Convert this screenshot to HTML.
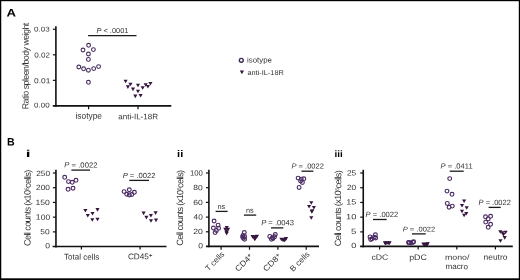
<!DOCTYPE html>
<html><head><meta charset="utf-8"><style>
html,body{margin:0;padding:0;background:#fff;}
body{width:520px;height:280px;overflow:hidden;}
svg{display:block;font-family:"Liberation Sans",sans-serif;text-rendering:geometricPrecision;will-change:transform;}
</style></head><body>
<svg width="520" height="280" viewBox="0 0 520 280">
<rect x="0" y="0" width="520" height="280" fill="#fff"/>
<g id="gfx">
<circle cx="88.6" cy="45.3" r="1.9" fill="none" stroke="#46305f" stroke-width="1.1"/>
<circle cx="83.0" cy="50.0" r="1.9" fill="none" stroke="#46305f" stroke-width="1.1"/>
<circle cx="93.4" cy="49.6" r="1.9" fill="none" stroke="#46305f" stroke-width="1.1"/>
<circle cx="88.4" cy="54.0" r="1.9" fill="none" stroke="#46305f" stroke-width="1.1"/>
<circle cx="88.4" cy="59.4" r="1.9" fill="none" stroke="#46305f" stroke-width="1.1"/>
<circle cx="78.8" cy="67.0" r="1.9" fill="none" stroke="#46305f" stroke-width="1.1"/>
<circle cx="83.6" cy="68.8" r="1.9" fill="none" stroke="#46305f" stroke-width="1.1"/>
<circle cx="88.4" cy="70.2" r="1.9" fill="none" stroke="#46305f" stroke-width="1.1"/>
<circle cx="93.7" cy="68.6" r="1.9" fill="none" stroke="#46305f" stroke-width="1.1"/>
<circle cx="98.6" cy="66.6" r="1.9" fill="none" stroke="#46305f" stroke-width="1.1"/>
<circle cx="88.4" cy="82.3" r="1.9" fill="none" stroke="#46305f" stroke-width="1.1"/>
<path d="M123.52,79.74L127.67,79.74L125.60,83.36Z" fill="#36163f"/>
<path d="M128.43,82.74L132.57,82.74L130.50,86.36Z" fill="#36163f"/>
<path d="M125.83,85.34L129.97,85.34L127.90,88.96Z" fill="#36163f"/>
<path d="M130.93,87.54L135.07,87.54L133.00,91.16Z" fill="#36163f"/>
<path d="M135.93,83.64L140.07,83.64L138.00,87.26Z" fill="#36163f"/>
<path d="M135.93,89.64L140.07,89.64L138.00,93.26Z" fill="#36163f"/>
<path d="M133.23,94.54L137.38,94.54L135.30,98.16Z" fill="#36163f"/>
<path d="M138.53,93.94L142.67,93.94L140.60,97.56Z" fill="#36163f"/>
<path d="M140.62,86.24L144.77,86.24L142.70,89.86Z" fill="#36163f"/>
<path d="M143.62,83.24L147.77,83.24L145.70,86.86Z" fill="#36163f"/>
<path d="M145.83,84.94L149.97,84.94L147.90,88.56Z" fill="#36163f"/>
<path d="M148.33,81.94L152.47,81.94L150.40,85.56Z" fill="#36163f"/>
<circle cx="241.3" cy="60.3" r="1.95" fill="none" stroke="#3c2850" stroke-width="1.4"/>
<path d="M239.75,70.48L244.05,70.48L241.90,74.22Z" fill="#36163f"/>
<circle cx="64.7" cy="177.3" r="1.9" fill="none" stroke="#4b2b64" stroke-width="1.15"/>
<circle cx="68.5" cy="181.6" r="1.9" fill="none" stroke="#4b2b64" stroke-width="1.15"/>
<circle cx="72.2" cy="182.3" r="1.9" fill="none" stroke="#4b2b64" stroke-width="1.15"/>
<circle cx="76.0" cy="180.3" r="1.9" fill="none" stroke="#4b2b64" stroke-width="1.15"/>
<circle cx="68.1" cy="189.3" r="1.9" fill="none" stroke="#4b2b64" stroke-width="1.15"/>
<circle cx="73.0" cy="188.2" r="1.9" fill="none" stroke="#4b2b64" stroke-width="1.15"/>
<path d="M83.33,208.94L87.48,208.94L85.40,212.56Z" fill="#36163f"/>
<path d="M85.72,213.94L89.88,213.94L87.80,217.56Z" fill="#36163f"/>
<path d="M90.42,211.94L94.58,211.94L92.50,215.56Z" fill="#36163f"/>
<path d="M95.42,208.04L99.58,208.04L97.50,211.66Z" fill="#36163f"/>
<path d="M90.22,218.24L94.38,218.24L92.30,221.86Z" fill="#36163f"/>
<path d="M95.42,217.74L99.58,217.74L97.50,221.36Z" fill="#36163f"/>
<circle cx="124.1" cy="191.6" r="1.9" fill="none" stroke="#4b2b64" stroke-width="1.15"/>
<circle cx="129.3" cy="189.7" r="1.9" fill="none" stroke="#4b2b64" stroke-width="1.15"/>
<circle cx="134.4" cy="192.2" r="1.9" fill="none" stroke="#4b2b64" stroke-width="1.15"/>
<circle cx="126.7" cy="194.2" r="1.9" fill="none" stroke="#4b2b64" stroke-width="1.15"/>
<circle cx="129.3" cy="194.9" r="1.9" fill="none" stroke="#4b2b64" stroke-width="1.15"/>
<circle cx="131.8" cy="194.5" r="1.9" fill="none" stroke="#4b2b64" stroke-width="1.15"/>
<path d="M141.53,211.54L145.67,211.54L143.60,215.16Z" fill="#36163f"/>
<path d="M144.33,215.84L148.47,215.84L146.40,219.46Z" fill="#36163f"/>
<path d="M148.83,213.94L152.97,213.94L150.90,217.56Z" fill="#36163f"/>
<path d="M153.53,211.34L157.67,211.34L155.60,214.96Z" fill="#36163f"/>
<path d="M148.93,219.24L153.07,219.24L151.00,222.86Z" fill="#36163f"/>
<path d="M153.93,218.54L158.07,218.54L156.00,222.16Z" fill="#36163f"/>
<circle cx="214.1" cy="221.0" r="1.9" fill="none" stroke="#4b2b64" stroke-width="1.15"/>
<circle cx="218.1" cy="225.1" r="1.9" fill="none" stroke="#4b2b64" stroke-width="1.15"/>
<circle cx="213.4" cy="228.0" r="1.9" fill="none" stroke="#4b2b64" stroke-width="1.15"/>
<circle cx="218.6" cy="228.3" r="1.9" fill="none" stroke="#4b2b64" stroke-width="1.15"/>
<circle cx="216.4" cy="230.4" r="1.9" fill="none" stroke="#4b2b64" stroke-width="1.15"/>
<circle cx="215.1" cy="232.6" r="1.9" fill="none" stroke="#4b2b64" stroke-width="1.15"/>
<path d="M224.62,225.94L228.77,225.94L226.70,229.56Z" fill="#36163f"/>
<path d="M223.23,227.64L227.38,227.64L225.30,231.26Z" fill="#36163f"/>
<path d="M226.03,227.64L230.17,227.64L228.10,231.26Z" fill="#36163f"/>
<path d="M224.62,229.24L228.77,229.24L226.70,232.86Z" fill="#36163f"/>
<path d="M224.43,230.64L228.57,230.64L226.50,234.26Z" fill="#36163f"/>
<path d="M224.62,231.84L228.77,231.84L226.70,235.46Z" fill="#36163f"/>
<circle cx="244.3" cy="232.5" r="1.9" fill="none" stroke="#4b2b64" stroke-width="1.15"/>
<circle cx="243.0" cy="235.5" r="1.9" fill="none" stroke="#4b2b64" stroke-width="1.15"/>
<circle cx="244.6" cy="236.5" r="1.9" fill="none" stroke="#4b2b64" stroke-width="1.15"/>
<circle cx="243.4" cy="238.2" r="1.9" fill="none" stroke="#4b2b64" stroke-width="1.15"/>
<circle cx="244.6" cy="239.3" r="1.9" fill="none" stroke="#4b2b64" stroke-width="1.15"/>
<circle cx="242.6" cy="237.0" r="1.9" fill="none" stroke="#4b2b64" stroke-width="1.15"/>
<path d="M250.53,235.04L254.67,235.04L252.60,238.66Z" fill="#36163f"/>
<path d="M252.23,235.74L256.38,235.74L254.30,239.36Z" fill="#36163f"/>
<path d="M254.12,235.04L258.27,235.04L256.20,238.66Z" fill="#36163f"/>
<path d="M252.93,236.74L257.07,236.74L255.00,240.36Z" fill="#36163f"/>
<path d="M252.73,237.64L256.88,237.64L254.80,241.26Z" fill="#36163f"/>
<path d="M254.93,234.74L259.07,234.74L257.00,238.36Z" fill="#36163f"/>
<circle cx="269.8" cy="236.4" r="1.9" fill="none" stroke="#4b2b64" stroke-width="1.15"/>
<circle cx="272.4" cy="237.7" r="1.9" fill="none" stroke="#4b2b64" stroke-width="1.15"/>
<circle cx="275.3" cy="234.5" r="1.9" fill="none" stroke="#4b2b64" stroke-width="1.15"/>
<circle cx="274.6" cy="236.7" r="1.9" fill="none" stroke="#4b2b64" stroke-width="1.15"/>
<circle cx="271.4" cy="239.3" r="1.9" fill="none" stroke="#4b2b64" stroke-width="1.15"/>
<circle cx="273.0" cy="238.6" r="1.9" fill="none" stroke="#4b2b64" stroke-width="1.15"/>
<path d="M279.32,237.64L283.47,237.64L281.40,241.26Z" fill="#36163f"/>
<path d="M281.43,238.44L285.57,238.44L283.50,242.06Z" fill="#36163f"/>
<path d="M283.53,237.44L287.68,237.44L285.60,241.06Z" fill="#36163f"/>
<path d="M280.73,238.24L284.88,238.24L282.80,241.86Z" fill="#36163f"/>
<path d="M282.53,238.64L286.68,238.64L284.60,242.26Z" fill="#36163f"/>
<path d="M283.93,237.04L288.07,237.04L286.00,240.66Z" fill="#36163f"/>
<circle cx="298.1" cy="178.1" r="1.9" fill="none" stroke="#4b2b64" stroke-width="1.15"/>
<circle cx="301.3" cy="179.1" r="1.9" fill="none" stroke="#4b2b64" stroke-width="1.15"/>
<circle cx="303.8" cy="178.8" r="1.9" fill="none" stroke="#4b2b64" stroke-width="1.15"/>
<circle cx="302.4" cy="182.4" r="1.9" fill="none" stroke="#4b2b64" stroke-width="1.15"/>
<circle cx="299.1" cy="187.4" r="1.9" fill="none" stroke="#4b2b64" stroke-width="1.15"/>
<circle cx="300.6" cy="180.9" r="1.9" fill="none" stroke="#4b2b64" stroke-width="1.15"/>
<path d="M309.23,201.14L313.38,201.14L311.30,204.76Z" fill="#36163f"/>
<path d="M307.03,204.94L311.18,204.94L309.10,208.56Z" fill="#36163f"/>
<path d="M311.82,205.94L315.97,205.94L313.90,209.56Z" fill="#36163f"/>
<path d="M310.23,209.14L314.38,209.14L312.30,212.76Z" fill="#36163f"/>
<path d="M309.23,216.14L313.38,216.14L311.30,219.76Z" fill="#36163f"/>
<path d="M309.73,210.04L313.88,210.04L311.80,213.66Z" fill="#36163f"/>
<circle cx="370.0" cy="236.9" r="1.9" fill="none" stroke="#4b2b64" stroke-width="1.15"/>
<circle cx="372.1" cy="238.7" r="1.9" fill="none" stroke="#4b2b64" stroke-width="1.15"/>
<circle cx="375.4" cy="234.8" r="1.9" fill="none" stroke="#4b2b64" stroke-width="1.15"/>
<circle cx="374.3" cy="237.3" r="1.9" fill="none" stroke="#4b2b64" stroke-width="1.15"/>
<circle cx="370.7" cy="239.4" r="1.9" fill="none" stroke="#4b2b64" stroke-width="1.15"/>
<circle cx="375.7" cy="238.0" r="1.9" fill="none" stroke="#4b2b64" stroke-width="1.15"/>
<path d="M382.93,241.34L387.07,241.34L385.00,244.96Z" fill="#36163f"/>
<path d="M383.93,241.74L388.07,241.74L386.00,245.36Z" fill="#36163f"/>
<path d="M385.32,241.14L389.47,241.14L387.40,244.76Z" fill="#36163f"/>
<path d="M386.82,241.74L390.97,241.74L388.90,245.36Z" fill="#36163f"/>
<path d="M387.53,241.34L391.68,241.34L389.60,244.96Z" fill="#36163f"/>
<path d="M383.32,241.64L387.47,241.64L385.40,245.26Z" fill="#36163f"/>
<circle cx="408.6" cy="242.4" r="1.9" fill="none" stroke="#4b2b64" stroke-width="1.15"/>
<circle cx="409.2" cy="242.8" r="1.9" fill="none" stroke="#4b2b64" stroke-width="1.15"/>
<circle cx="413.6" cy="241.7" r="1.9" fill="none" stroke="#4b2b64" stroke-width="1.15"/>
<circle cx="413.2" cy="242.2" r="1.9" fill="none" stroke="#4b2b64" stroke-width="1.15"/>
<circle cx="411.0" cy="242.9" r="1.9" fill="none" stroke="#4b2b64" stroke-width="1.15"/>
<circle cx="408.9" cy="242.6" r="1.9" fill="none" stroke="#4b2b64" stroke-width="1.15"/>
<path d="M421.32,242.54L425.47,242.54L423.40,246.16Z" fill="#36163f"/>
<path d="M423.32,242.74L427.47,242.74L425.40,246.36Z" fill="#36163f"/>
<path d="M425.32,242.44L429.47,242.44L427.40,246.06Z" fill="#36163f"/>
<path d="M422.53,242.94L426.68,242.94L424.60,246.56Z" fill="#36163f"/>
<path d="M424.53,242.94L428.68,242.94L426.60,246.56Z" fill="#36163f"/>
<path d="M425.53,242.34L429.68,242.34L427.60,245.96Z" fill="#36163f"/>
<circle cx="449.7" cy="178.6" r="1.9" fill="none" stroke="#4b2b64" stroke-width="1.15"/>
<circle cx="447.0" cy="191.1" r="1.9" fill="none" stroke="#4b2b64" stroke-width="1.15"/>
<circle cx="452.0" cy="194.3" r="1.9" fill="none" stroke="#4b2b64" stroke-width="1.15"/>
<circle cx="447.3" cy="203.4" r="1.9" fill="none" stroke="#4b2b64" stroke-width="1.15"/>
<circle cx="449.1" cy="207.2" r="1.9" fill="none" stroke="#4b2b64" stroke-width="1.15"/>
<circle cx="452.3" cy="206.1" r="1.9" fill="none" stroke="#4b2b64" stroke-width="1.15"/>
<path d="M462.03,199.44L466.18,199.44L464.10,203.06Z" fill="#36163f"/>
<path d="M459.93,203.94L464.07,203.94L462.00,207.56Z" fill="#36163f"/>
<path d="M464.62,206.14L468.77,206.14L466.70,209.76Z" fill="#36163f"/>
<path d="M459.93,209.74L464.07,209.74L462.00,213.36Z" fill="#36163f"/>
<path d="M464.23,211.94L468.38,211.94L466.30,215.56Z" fill="#36163f"/>
<path d="M462.03,213.74L466.18,213.74L464.10,217.36Z" fill="#36163f"/>
<circle cx="485.5" cy="216.8" r="1.9" fill="none" stroke="#4b2b64" stroke-width="1.15"/>
<circle cx="490.6" cy="216.3" r="1.9" fill="none" stroke="#4b2b64" stroke-width="1.15"/>
<circle cx="488.2" cy="218.9" r="1.9" fill="none" stroke="#4b2b64" stroke-width="1.15"/>
<circle cx="485.7" cy="222.1" r="1.9" fill="none" stroke="#4b2b64" stroke-width="1.15"/>
<circle cx="490.6" cy="224.3" r="1.9" fill="none" stroke="#4b2b64" stroke-width="1.15"/>
<circle cx="488.2" cy="227.3" r="1.9" fill="none" stroke="#4b2b64" stroke-width="1.15"/>
<path d="M498.23,230.24L502.38,230.24L500.30,233.86Z" fill="#36163f"/>
<path d="M500.43,231.14L504.57,231.14L502.50,234.76Z" fill="#36163f"/>
<path d="M503.53,230.64L507.68,230.64L505.60,234.26Z" fill="#36163f"/>
<path d="M502.62,236.04L506.77,236.04L504.70,239.66Z" fill="#36163f"/>
<path d="M498.43,239.14L502.57,239.14L500.50,242.76Z" fill="#36163f"/>
<path d="M501.32,232.94L505.47,232.94L503.40,236.56Z" fill="#36163f"/>
<line x1="55.90" y1="26.30" x2="55.90" y2="106.70" stroke="#111" stroke-width="1.6"/>
<line x1="52.90" y1="29.25" x2="55.90" y2="29.25" stroke="#111" stroke-width="1.2"/>
<line x1="52.90" y1="54.80" x2="55.90" y2="54.80" stroke="#111" stroke-width="1.2"/>
<line x1="52.90" y1="80.35" x2="55.90" y2="80.35" stroke="#111" stroke-width="1.2"/>
<line x1="52.80" y1="105.90" x2="171.30" y2="105.90" stroke="#111" stroke-width="1.6"/>
<line x1="88.60" y1="105.90" x2="88.60" y2="109.30" stroke="#111" stroke-width="1.2"/>
<line x1="138.00" y1="105.90" x2="138.00" y2="109.30" stroke="#111" stroke-width="1.2"/>
<line x1="88.10" y1="35.70" x2="136.50" y2="35.70" stroke="#1a1a1a" stroke-width="1.3"/>
<line x1="55.95" y1="169.80" x2="55.95" y2="247.40" stroke="#111" stroke-width="1.6"/>
<line x1="52.90" y1="173.00" x2="55.95" y2="173.00" stroke="#111" stroke-width="1.2"/>
<line x1="52.90" y1="187.72" x2="55.95" y2="187.72" stroke="#111" stroke-width="1.2"/>
<line x1="52.90" y1="202.44" x2="55.95" y2="202.44" stroke="#111" stroke-width="1.2"/>
<line x1="52.90" y1="217.16" x2="55.95" y2="217.16" stroke="#111" stroke-width="1.2"/>
<line x1="52.90" y1="231.88" x2="55.95" y2="231.88" stroke="#111" stroke-width="1.2"/>
<line x1="52.60" y1="246.45" x2="166.50" y2="246.45" stroke="#111" stroke-width="1.6"/>
<line x1="81.40" y1="246.45" x2="81.40" y2="249.50" stroke="#111" stroke-width="1.2"/>
<line x1="140.10" y1="246.45" x2="140.10" y2="249.50" stroke="#111" stroke-width="1.2"/>
<line x1="71.40" y1="170.10" x2="90.00" y2="170.10" stroke="#1a1a1a" stroke-width="1.3"/>
<line x1="129.30" y1="180.40" x2="149.00" y2="180.40" stroke="#1a1a1a" stroke-width="1.3"/>
<line x1="208.90" y1="169.80" x2="208.90" y2="247.30" stroke="#111" stroke-width="1.6"/>
<line x1="205.90" y1="173.00" x2="208.90" y2="173.00" stroke="#111" stroke-width="1.2"/>
<line x1="205.90" y1="187.70" x2="208.90" y2="187.70" stroke="#111" stroke-width="1.2"/>
<line x1="205.90" y1="202.40" x2="208.90" y2="202.40" stroke="#111" stroke-width="1.2"/>
<line x1="205.90" y1="217.10" x2="208.90" y2="217.10" stroke="#111" stroke-width="1.2"/>
<line x1="205.90" y1="231.80" x2="208.90" y2="231.80" stroke="#111" stroke-width="1.2"/>
<line x1="206.00" y1="246.35" x2="319.00" y2="246.35" stroke="#111" stroke-width="1.6"/>
<line x1="221.10" y1="246.35" x2="221.10" y2="249.70" stroke="#111" stroke-width="1.2"/>
<line x1="249.50" y1="246.35" x2="249.50" y2="249.70" stroke="#111" stroke-width="1.2"/>
<line x1="277.90" y1="246.35" x2="277.90" y2="249.70" stroke="#111" stroke-width="1.2"/>
<line x1="306.20" y1="246.35" x2="306.20" y2="249.70" stroke="#111" stroke-width="1.2"/>
<line x1="215.60" y1="211.40" x2="227.60" y2="211.40" stroke="#1a1a1a" stroke-width="1.3"/>
<line x1="243.90" y1="215.10" x2="256.20" y2="215.10" stroke="#1a1a1a" stroke-width="1.3"/>
<line x1="271.00" y1="227.90" x2="283.30" y2="227.90" stroke="#1a1a1a" stroke-width="1.3"/>
<line x1="301.50" y1="171.20" x2="313.40" y2="171.20" stroke="#1a1a1a" stroke-width="1.3"/>
<line x1="363.25" y1="169.80" x2="363.25" y2="247.40" stroke="#111" stroke-width="1.6"/>
<line x1="360.20" y1="173.00" x2="363.25" y2="173.00" stroke="#111" stroke-width="1.2"/>
<line x1="360.20" y1="187.72" x2="363.25" y2="187.72" stroke="#111" stroke-width="1.2"/>
<line x1="360.20" y1="202.44" x2="363.25" y2="202.44" stroke="#111" stroke-width="1.2"/>
<line x1="360.20" y1="217.16" x2="363.25" y2="217.16" stroke="#111" stroke-width="1.2"/>
<line x1="360.20" y1="231.88" x2="363.25" y2="231.88" stroke="#111" stroke-width="1.2"/>
<line x1="360.10" y1="246.35" x2="512.80" y2="246.35" stroke="#111" stroke-width="1.6"/>
<line x1="379.60" y1="246.35" x2="379.60" y2="249.60" stroke="#111" stroke-width="1.2"/>
<line x1="418.20" y1="246.35" x2="418.20" y2="249.60" stroke="#111" stroke-width="1.2"/>
<line x1="456.80" y1="246.35" x2="456.80" y2="249.60" stroke="#111" stroke-width="1.2"/>
<line x1="495.40" y1="246.35" x2="495.40" y2="249.60" stroke="#111" stroke-width="1.2"/>
<line x1="373.00" y1="219.50" x2="386.70" y2="219.50" stroke="#1a1a1a" stroke-width="1.3"/>
<line x1="412.00" y1="233.90" x2="425.70" y2="233.90" stroke="#1a1a1a" stroke-width="1.3"/>
<line x1="449.70" y1="171.20" x2="463.70" y2="171.20" stroke="#1a1a1a" stroke-width="1.3"/>
<line x1="488.60" y1="207.40" x2="500.70" y2="207.40" stroke="#1a1a1a" stroke-width="1.3"/>
<rect x="0" y="0" width="520" height="1.2" fill="#000"/>
<rect x="0" y="0" width="1.25" height="280" fill="#000"/>
<rect x="518.8" y="0" width="1.2" height="280" fill="#000"/>
<rect x="0" y="278.3" width="520" height="1.7" fill="#000"/>
</g>
<g id="txt">
<text id="A" class="t" x="6.50" y="16.43" font-size="11.07" font-weight="bold" font-style="normal" fill="#000" textLength="9.50" lengthAdjust="spacingAndGlyphs" transform="matrix(1 0.001 0 1 0 -0.0065)">A</text>
<text id="a_003" class="t" x="33.99" y="31.55" font-size="7.00" font-weight="normal" font-style="normal" fill="#333" textLength="15.65" lengthAdjust="spacingAndGlyphs" transform="matrix(1 0.001 0 1 0 -0.0340)">0.03</text>
<text id="a_002" class="t" x="34.15" y="57.44" font-size="7.09" font-weight="normal" font-style="normal" fill="#333" textLength="15.75" lengthAdjust="spacingAndGlyphs" transform="matrix(1 0.001 0 1 0 -0.0342)">0.02</text>
<text id="a_001" class="t" x="34.04" y="83.23" font-size="7.23" font-weight="normal" font-style="normal" fill="#333" textLength="16.31" lengthAdjust="spacingAndGlyphs" transform="matrix(1 0.001 0 1 0 -0.0340)">0.01</text>
<text id="a_000" class="t" x="34.07" y="107.56" font-size="6.96" font-weight="normal" font-style="normal" fill="#333" textLength="15.55" lengthAdjust="spacingAndGlyphs" transform="matrix(1 0.001 0 1 0 -0.0341)">0.00</text>
<text id="a_iso" class="t" x="75.48" y="118.73" font-size="8.79" font-weight="normal" font-style="normal" fill="#333" textLength="26.48" lengthAdjust="spacingAndGlyphs" transform="matrix(1 0.001 0 1 0 -0.0755)">isotype</text>
<text id="a_anti" class="t" x="118.30" y="119.21" font-size="7.86" font-weight="normal" font-style="normal" fill="#333" textLength="39.70" lengthAdjust="spacingAndGlyphs" transform="matrix(1 0.001 0 1 0 -0.1183)">anti-IL-18R</text>
<text id="a_p" class="t" x="96.47" y="33.06" font-size="7.14" font-weight="normal" font-style="normal" fill="#333" textLength="31.96" lengthAdjust="spacingAndGlyphs" transform="matrix(1 0.001 0 1 0 -0.0965)"><tspan font-style='italic'>P</tspan> &lt; .0001</text>
<text id="a_leg1" class="t" x="247.02" y="62.50" font-size="7.66" font-weight="normal" font-style="normal" fill="#333" textLength="24.90" lengthAdjust="spacingAndGlyphs" transform="matrix(1 0.001 0 1 0 -0.2470)">isotype</text>
<text id="a_leg2" class="t" x="247.42" y="74.96" font-size="6.94" font-weight="normal" font-style="normal" fill="#333" textLength="36.41" lengthAdjust="spacingAndGlyphs" transform="matrix(1 0.001 0 1 0 -0.2474)">anti-IL-18R</text>
<text id="a_yt" class="t" x="28.60" y="109.28" font-size="8.90" font-weight="normal" font-style="normal" fill="#333" textLength="86.63" lengthAdjust="spacing" transform="rotate(-89.85 28.60 109.28)">Ratio spleen/body weight</text>
<text id="B" class="t" x="7.01" y="145.52" font-size="10.74" font-weight="bold" font-style="normal" fill="#000" textLength="7.66" lengthAdjust="spacingAndGlyphs" transform="matrix(1 0.001 0 1 0 -0.0070)">B</text>
<text id="i" class="t" x="25.74" y="156.93" font-size="9.87" font-weight="bold" font-style="normal" fill="#000" textLength="4.79" lengthAdjust="spacingAndGlyphs" transform="matrix(1 0.001 0 1 0 -0.0257)">i</text>
<text id="ii" class="t" x="177.14" y="156.88" font-size="9.69" font-weight="bold" font-style="normal" fill="#000" textLength="6.18" lengthAdjust="spacingAndGlyphs" transform="matrix(1 0.001 0 1 0 -0.1771)">ii</text>
<text id="iii" class="t" x="334.42" y="156.96" font-size="9.21" font-weight="bold" font-style="normal" fill="#000" textLength="8.26" lengthAdjust="spacingAndGlyphs" transform="matrix(1 0.001 0 1 0 -0.3344)">iii</text>
<text id="i_250" class="t" x="36.18" y="175.97" font-size="7.60" font-weight="normal" font-style="normal" fill="#333" textLength="13.91" lengthAdjust="spacingAndGlyphs" transform="matrix(1 0.001 0 1 0 -0.0362)">250</text>
<text id="i_200" class="t" x="36.12" y="190.07" font-size="7.60" font-weight="normal" font-style="normal" fill="#333" textLength="13.88" lengthAdjust="spacingAndGlyphs" transform="matrix(1 0.001 0 1 0 -0.0361)">200</text>
<text id="i_150" class="t" x="35.45" y="204.94" font-size="7.60" font-weight="normal" font-style="normal" fill="#333" textLength="14.40" lengthAdjust="spacingAndGlyphs" transform="matrix(1 0.001 0 1 0 -0.0355)">150</text>
<text id="i_100" class="t" x="35.89" y="219.64" font-size="7.60" font-weight="normal" font-style="normal" fill="#333" textLength="14.31" lengthAdjust="spacingAndGlyphs" transform="matrix(1 0.001 0 1 0 -0.0359)">100</text>
<text id="i_50" class="t" x="40.33" y="234.14" font-size="7.60" font-weight="normal" font-style="normal" fill="#333" textLength="9.33" lengthAdjust="spacingAndGlyphs" transform="matrix(1 0.001 0 1 0 -0.0403)">50</text>
<text id="i_0" class="t" x="45.15" y="248.15" font-size="7.60" font-weight="normal" font-style="normal" fill="#333" textLength="4.77" lengthAdjust="spacingAndGlyphs" transform="matrix(1 0.001 0 1 0 -0.0452)">0</text>
<text id="ii_100" class="t" x="189.94" y="175.62" font-size="7.60" font-weight="normal" font-style="normal" fill="#333" textLength="12.91" lengthAdjust="spacingAndGlyphs" transform="matrix(1 0.001 0 1 0 -0.1899)">100</text>
<text id="ii_80" class="t" x="193.35" y="190.14" font-size="7.60" font-weight="normal" font-style="normal" fill="#333" textLength="9.46" lengthAdjust="spacingAndGlyphs" transform="matrix(1 0.001 0 1 0 -0.1934)">80</text>
<text id="ii_60" class="t" x="193.36" y="204.99" font-size="7.60" font-weight="normal" font-style="normal" fill="#333" textLength="9.50" lengthAdjust="spacingAndGlyphs" transform="matrix(1 0.001 0 1 0 -0.1934)">60</text>
<text id="ii_40" class="t" x="193.55" y="219.41" font-size="7.60" font-weight="normal" font-style="normal" fill="#333" textLength="9.20" lengthAdjust="spacingAndGlyphs" transform="matrix(1 0.001 0 1 0 -0.1935)">40</text>
<text id="ii_20" class="t" x="193.31" y="234.08" font-size="7.60" font-weight="normal" font-style="normal" fill="#333" textLength="9.64" lengthAdjust="spacingAndGlyphs" transform="matrix(1 0.001 0 1 0 -0.1933)">20</text>
<text id="ii_0" class="t" x="198.15" y="248.15" font-size="7.60" font-weight="normal" font-style="normal" fill="#333" textLength="4.77" lengthAdjust="spacingAndGlyphs" transform="matrix(1 0.001 0 1 0 -0.1982)">0</text>
<text id="iii_25" class="t" x="346.91" y="175.40" font-size="7.60" font-weight="normal" font-style="normal" fill="#333" textLength="9.33" lengthAdjust="spacingAndGlyphs" transform="matrix(1 0.001 0 1 0 -0.3469)">25</text>
<text id="iii_20" class="t" x="346.93" y="190.07" font-size="7.60" font-weight="normal" font-style="normal" fill="#333" textLength="9.23" lengthAdjust="spacingAndGlyphs" transform="matrix(1 0.001 0 1 0 -0.3469)">20</text>
<text id="iii_15" class="t" x="346.20" y="204.58" font-size="7.60" font-weight="normal" font-style="normal" fill="#333" textLength="10.07" lengthAdjust="spacingAndGlyphs" transform="matrix(1 0.001 0 1 0 -0.3462)">15</text>
<text id="iii_10" class="t" x="345.93" y="219.23" font-size="7.60" font-weight="normal" font-style="normal" fill="#333" textLength="10.42" lengthAdjust="spacingAndGlyphs" transform="matrix(1 0.001 0 1 0 -0.3459)">10</text>
<text id="iii_5" class="t" x="351.08" y="233.99" font-size="7.60" font-weight="normal" font-style="normal" fill="#333" textLength="5.41" lengthAdjust="spacingAndGlyphs" transform="matrix(1 0.001 0 1 0 -0.3511)">5</text>
<text id="iii_0" class="t" x="351.36" y="248.09" font-size="7.60" font-weight="normal" font-style="normal" fill="#333" textLength="5.04" lengthAdjust="spacingAndGlyphs" transform="matrix(1 0.001 0 1 0 -0.3514)">0</text>
<text id="i_tot" class="t" x="64.12" y="259.61" font-size="8.21" font-weight="normal" font-style="normal" fill="#333" textLength="35.20" lengthAdjust="spacingAndGlyphs" transform="matrix(1 0.001 0 1 0 -0.0641)">Total cells</text>
<text id="i_cd45" class="t" x="127.93" y="259.32" font-size="8.24" font-weight="normal" font-style="normal" fill="#333" textLength="24.39" lengthAdjust="spacingAndGlyphs" transform="matrix(1 0.001 0 1 0 -0.1279)">CD45<tspan font-size='0.7em' font-weight='bold' dy='-0.38em'>+</tspan></text>
<text id="i_p1" class="t" x="64.29" y="167.39" font-size="7.37" font-weight="normal" font-style="normal" fill="#333" textLength="33.22" lengthAdjust="spacingAndGlyphs" transform="matrix(1 0.001 0 1 0 -0.0643)"><tspan font-style='italic'>P</tspan> = .0022</text>
<text id="i_p2" class="t" x="122.66" y="178.07" font-size="7.37" font-weight="normal" font-style="normal" fill="#333" textLength="32.72" lengthAdjust="spacingAndGlyphs" transform="matrix(1 0.001 0 1 0 -0.1227)"><tspan font-style='italic'>P</tspan> = .0022</text>
<text id="i_yt" class="t" x="30.50" y="245.95" font-size="9.10" font-weight="normal" font-style="normal" fill="#333" textLength="76.12" lengthAdjust="spacing" transform="rotate(-89.85 30.50 245.95)">Cell counts (x10<tspan font-size='0.62em' dy='-0.4em'>6</tspan><tspan dy='0.248em'>cells)</tspan></text>
<text id="ii_yt" class="t" x="183.00" y="245.71" font-size="9.10" font-weight="normal" font-style="normal" fill="#333" textLength="75.86" lengthAdjust="spacing" transform="rotate(-89.85 183.00 245.71)">Cell counts (x10<tspan font-size='0.62em' dy='-0.4em'>6</tspan><tspan dy='0.248em'>cells)</tspan></text>
<text id="ii_tc" class="t" x="208.42" y="271.42" font-size="8.00" font-weight="normal" font-style="normal" fill="#333" textLength="23.40" lengthAdjust="spacingAndGlyphs" transform="rotate(-45 208.42 271.42)">T cells</text>
<text id="ii_cd4" class="t" x="238.20" y="271.93" font-size="8.00" font-weight="normal" font-style="normal" fill="#333" textLength="21.19" lengthAdjust="spacingAndGlyphs" transform="rotate(-45 238.20 271.93)">CD4<tspan font-size='0.7em' font-weight='bold' dy='-0.38em'>+</tspan></text>
<text id="ii_cd8" class="t" x="266.29" y="272.09" font-size="8.00" font-weight="normal" font-style="normal" fill="#333" textLength="21.67" lengthAdjust="spacingAndGlyphs" transform="rotate(-45 266.29 272.09)">CD8<tspan font-size='0.7em' font-weight='bold' dy='-0.38em'>+</tspan></text>
<text id="ii_bc" class="t" x="293.14" y="271.96" font-size="8.00" font-weight="normal" font-style="normal" fill="#333" textLength="24.21" lengthAdjust="spacingAndGlyphs" transform="rotate(-45 293.14 271.96)">B cells</text>
<text id="ii_ns1" class="t" x="217.46" y="208.92" font-size="7.30" font-weight="normal" font-style="normal" fill="#333" textLength="7.81" lengthAdjust="spacingAndGlyphs" transform="matrix(1 0.001 0 1 0 -0.2175)">ns</text>
<text id="ii_ns2" class="t" x="245.92" y="212.70" font-size="7.30" font-weight="normal" font-style="normal" fill="#333" textLength="7.72" lengthAdjust="spacingAndGlyphs" transform="matrix(1 0.001 0 1 0 -0.2459)">ns</text>
<text id="ii_p1" class="t" x="261.13" y="225.32" font-size="7.68" font-weight="normal" font-style="normal" fill="#333" textLength="32.90" lengthAdjust="spacingAndGlyphs" transform="matrix(1 0.001 0 1 0 -0.2611)"><tspan font-style='italic'>P</tspan> = .0043</text>
<text id="ii_p2" class="t" x="291.51" y="168.55" font-size="7.28" font-weight="normal" font-style="normal" fill="#333" textLength="32.43" lengthAdjust="spacingAndGlyphs" transform="matrix(1 0.001 0 1 0 -0.2915)"><tspan font-style='italic'>P</tspan> = .0022</text>
<text id="iii_yt" class="t" x="341.00" y="246.17" font-size="9.10" font-weight="normal" font-style="normal" fill="#333" textLength="75.84" lengthAdjust="spacing" transform="rotate(-89.85 341.00 246.17)">Cell counts (x10<tspan font-size='0.62em' dy='-0.4em'>6</tspan><tspan dy='0.248em'>cells)</tspan></text>
<text id="iii_cdc" class="t" x="371.40" y="259.68" font-size="7.65" font-weight="normal" font-style="normal" fill="#333" textLength="16.94" lengthAdjust="spacingAndGlyphs" transform="matrix(1 0.001 0 1 0 -0.3714)">cDC</text>
<text id="iii_pdc" class="t" x="409.18" y="259.98" font-size="8.01" font-weight="normal" font-style="normal" fill="#333" textLength="17.77" lengthAdjust="spacingAndGlyphs" transform="matrix(1 0.001 0 1 0 -0.4092)">pDC</text>
<text id="iii_mono" class="t" x="445.00" y="259.78" font-size="7.45" font-weight="normal" font-style="normal" fill="#333" textLength="24.41" lengthAdjust="spacingAndGlyphs" transform="matrix(1 0.001 0 1 0 -0.4450)">mono/</text>
<text id="iii_macro" class="t" x="445.40" y="269.11" font-size="8.00" font-weight="normal" font-style="normal" fill="#333" textLength="22.50" lengthAdjust="spacingAndGlyphs" transform="matrix(1 0.001 0 1 0 -0.4454)">macro</text>
<text id="iii_neu" class="t" x="483.54" y="259.81" font-size="7.92" font-weight="normal" font-style="normal" fill="#333" textLength="23.86" lengthAdjust="spacingAndGlyphs" transform="matrix(1 0.001 0 1 0 -0.4835)">neutro</text>
<text id="iii_p1" class="t" x="365.60" y="217.00" font-size="7.58" font-weight="normal" font-style="normal" fill="#333" textLength="32.66" lengthAdjust="spacingAndGlyphs" transform="matrix(1 0.001 0 1 0 -0.3656)"><tspan font-style='italic'>P</tspan> = .0022</text>
<text id="iii_p2" class="t" x="402.76" y="231.42" font-size="6.82" font-weight="normal" font-style="normal" fill="#333" textLength="32.44" lengthAdjust="spacingAndGlyphs" transform="matrix(1 0.001 0 1 0 -0.4028)"><tspan font-style='italic'>P</tspan> = .0022</text>
<text id="iii_p3" class="t" x="440.57" y="168.56" font-size="7.36" font-weight="normal" font-style="normal" fill="#333" textLength="32.08" lengthAdjust="spacingAndGlyphs" transform="matrix(1 0.001 0 1 0 -0.4406)"><tspan font-style='italic'>P</tspan> = .0411</text>
<text id="iii_p4" class="t" x="478.58" y="205.02" font-size="7.62" font-weight="normal" font-style="normal" fill="#333" textLength="32.31" lengthAdjust="spacingAndGlyphs" transform="matrix(1 0.001 0 1 0 -0.4786)"><tspan font-style='italic'>P</tspan> = .0022</text>
</g>
</svg>
</body></html>
